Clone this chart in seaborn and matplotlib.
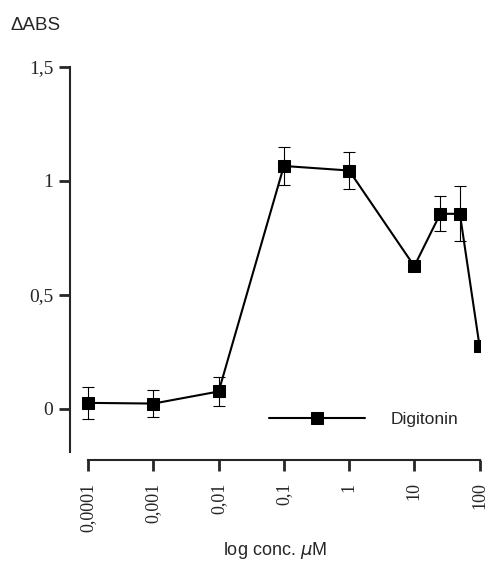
import matplotlib
matplotlib.use("Agg")
import matplotlib.pyplot as plt
import seaborn as sns
import numpy as np
import pandas as pd

conc = [0.0001, 0.001, 0.01, 0.1, 1, 10, 25, 50, 100]
dabs = [0.025, 0.022, 0.075, 1.065, 1.045, 0.625, 0.855, 0.855, 0.275]
err = [0.07, 0.06, 0.065, 0.085, 0.08, 0.0, 0.077, 0.12, 0.0]
xticks = [0.0001, 0.001, 0.01, 0.1, 1, 10, 100]
xticklabels = ["0,0001", "0,001", "0,01", "0,1", "1", "10", "100"]
yticks = [0, 0.5, 1, 1.5]
yticklabels = ["0", "0,5", "1", "1,5"]

sns.set_style("ticks")
plt.rcParams['font.family'] = ['Liberation Sans', 'DejaVu Sans']

df = pd.DataFrame({"conc": conc, "dabs": dabs, "series": "Digitonin"})

fig = plt.figure(figsize=(4.86, 5.62), dpi=100)
ax = fig.add_axes([0.144, 0.196, 0.844, 0.685])

ax.errorbar(conc, dabs, yerr=err, fmt="none", ecolor="black", elinewidth=0.8,
            capsize=4, capthick=0.8, zorder=2)
sns.lineplot(data=df, x="conc", y="dabs", hue="series", palette=["black"],
             marker="s", markersize=8, markeredgecolor="black", linewidth=1.5,
             ax=ax, zorder=3, legend=True)

ax.set_xscale("log")
ax.set_xlim(10**-4.28, 10**2.01)
ax.set_ylim(-0.19, 1.5)

for s in ["top", "right"]:
    ax.spines[s].set_visible(False)
ax.spines["bottom"].set_position(("outward", 6))
ax.spines["bottom"].set_bounds(1e-4, 100)
ax.spines["left"].set_linewidth(1.5)
ax.spines["bottom"].set_linewidth(1.5)

ax.set_xticks(xticks)
ax.set_xticklabels(xticklabels)
ax.xaxis.set_minor_locator(matplotlib.ticker.NullLocator())
ax.set_yticks(yticks)
ax.set_yticklabels(yticklabels)
ax.tick_params(axis="y", length=8, width=2, direction="out", pad=4, labelsize=14)
ax.tick_params(axis="x", length=8, width=2, direction="out", pad=8, labelsize=13,
               labelrotation=90)
for lab in ax.get_xticklabels() + ax.get_yticklabels():
    lab.set_family("Liberation Serif")

ax.set_xlabel("log conc. $\\mu$M", fontsize=13, labelpad=6)
ax.set_ylabel("")
fig.text(0.022, 0.955, "\u0394ABS", fontsize=13.5, ha="left", va="center")

leg = ax.legend(loc="lower right", bbox_to_anchor=(0.985, 0.025), frameon=False,
                handlelength=5.5, fontsize=12.5, handletextpad=1.5)
fig.savefig("out.png", dpi=100)
